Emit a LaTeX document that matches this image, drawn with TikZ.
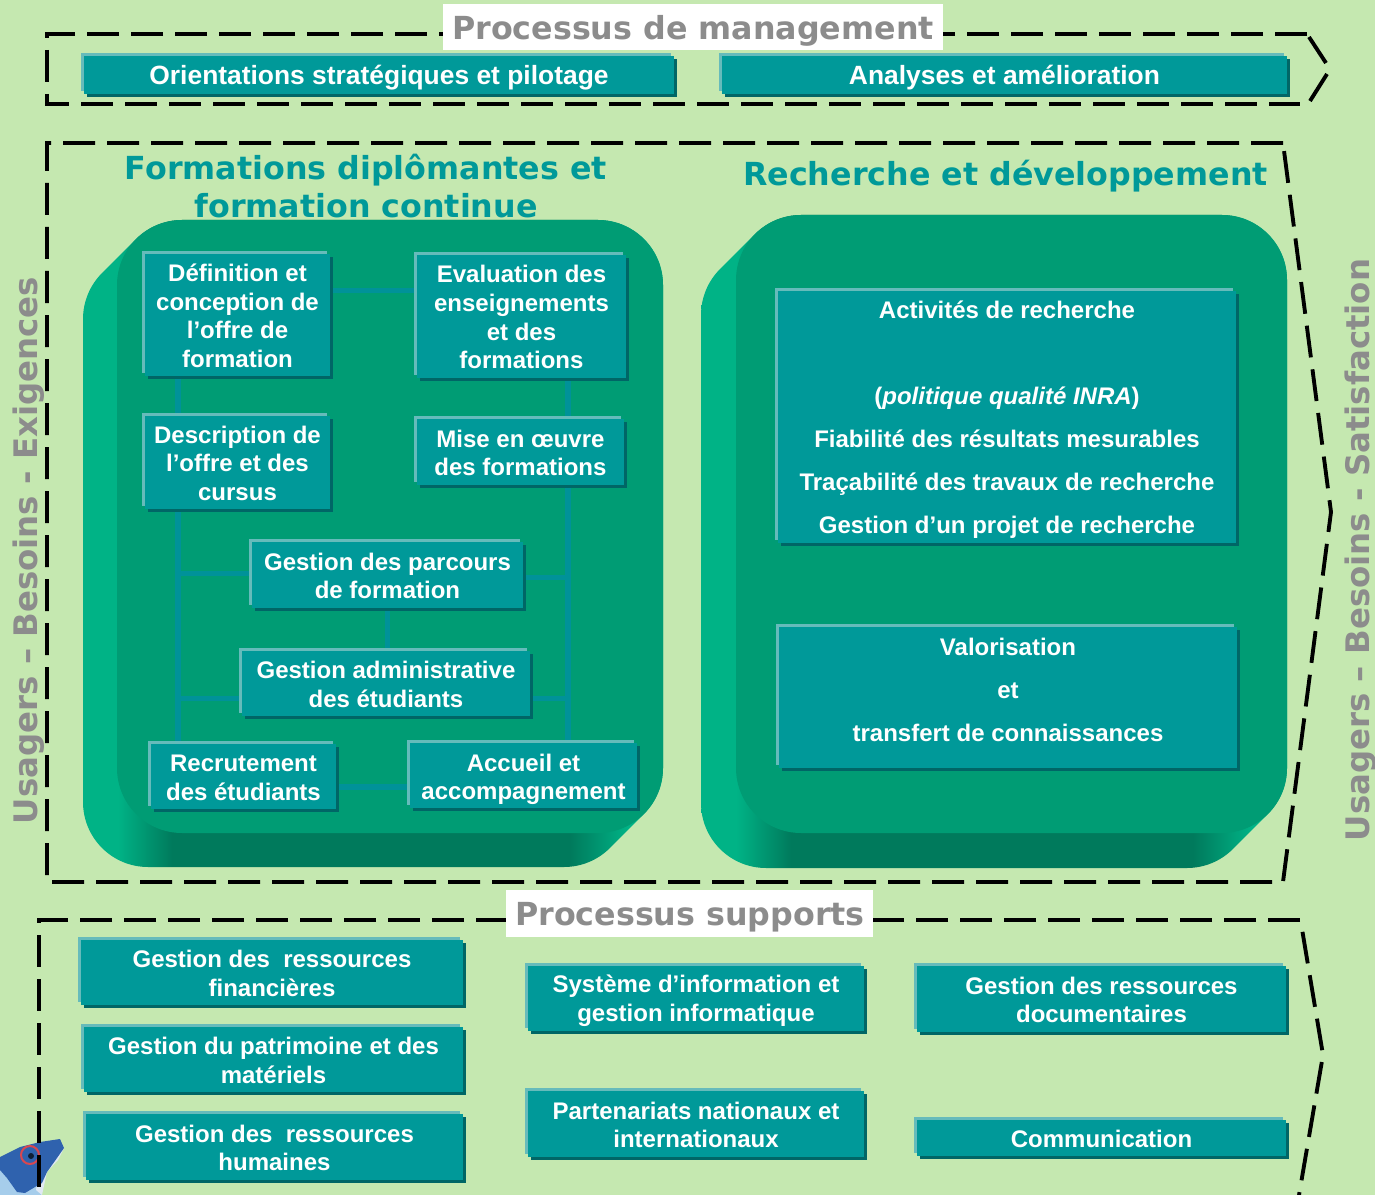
\documentclass[tikz,border=0pt]{standalone}
\usepackage{fontspec}
\setmainfont{Liberation Sans}
\newfontfamily\titlefont{DejaVu Sans}
\usetikzlibrary{calc}
\definecolor{bgc}{HTML}{C5E8B0}
\definecolor{boxc}{HTML}{009999}
\definecolor{boxl}{HTML}{66BBBB}
\definecolor{boxd}{HTML}{006666}
\definecolor{linkc}{HTML}{009299}
\definecolor{frontc}{HTML}{009C74}
\definecolor{brightc}{HTML}{00B386}
\definecolor{darkc}{HTML}{007A5C}
\definecolor{titlec}{HTML}{009999}
\definecolor{greyc}{HTML}{8C8C8C}
\definecolor{fishb}{HTML}{2F62AE}
\definecolor{fishl}{HTML}{A6CDEB}
\definecolor{fishr}{HTML}{D9474F}
\pgfdeclarehorizontalshading{panelsh}{100bp}{color(0bp)=(brightc); color(28bp)=(brightc); color(32.7bp)=(darkc); color(67bp)=(darkc); color(72bp)=(brightc); color(100bp)=(brightc)}
\pgfdeclarelayer{panels}
\pgfdeclarelayer{links}
\pgfsetlayers{panels,links,main}
\tikzset{
  down/.style={yshift=-#1*0.75pt},
  boxtext/.style={text=white,font=\bfseries\fontsize{18}{21.5}\selectfont,align=center,inner sep=0pt,down=0.8},
  widetext/.style={font=\bfseries\fontsize{18}{32.3}\selectfont},
  toptext/.style={font=\bfseries\fontsize{19.8}{21.5}\selectfont},
  linkline/.style={draw=linkc,line width=4pt},
  frame/.style={draw=black,line width=2.9pt,dash pattern=on 24pt off 9pt},
  framesolid/.style={draw=black,line width=2.9pt},
  bigtitle/.style={font=\titlefont\bfseries\fontsize{23.8}{28.5}\selectfont,text=titlec,align=center,inner sep=0pt},
  whitetitle/.style={font=\titlefont\bfseries\fontsize{23.8}{28.5}\selectfont,text=greyc,inner sep=0pt},
  sidetext/.style={font=\titlefont\bfseries\fontsize{24.3}{28.5}\selectfont,text=greyc,rotate=90,inner sep=0pt}
}
% box: main rectangle x0,y0,x1,y1, light edge up-left, dark shadow down-right
\newcommand{\bx}[7][]{%
  \fill[boxl] (#3-3,#4-3) rectangle (#5-3,#6-3);
  \fill[boxd] (#3+3,#4+3) rectangle (#5+3,#6+3);
  \fill[boxc] (#3,#4) rectangle (#5,#6);
  \pgfmathsetmacro\bw{(#5-#3)*0.75}\pgfmathsetmacro\bh{(#6-#4)*0.75}
  \node[boxtext,#1,minimum width=\bw pt,minimum height=\bh pt] (#2) at ({(#3+#5)/2},{(#4+#6)/2}) {#7};
}
% rounded panel with extrusion down-left
\newcommand{\panelshape}[5]{%
  \pgfmathsetmacro\pr{65}\pgfmathsetmacro\pk{\pr*0.7071}
  \shade[shading=panelsh]
    (#1-#5,#2+#5+\pr) arc[start angle=180,end angle=225,radius=\pr]
    -- (#1+\pr-\pk,#2+\pr-\pk) arc[start angle=225,end angle=270,radius=\pr]
    -- (#3-\pr,#2) arc[start angle=270,end angle=360,radius=\pr]
    -- (#3,#4-\pr) arc[start angle=0,end angle=45,radius=\pr]
    -- (#3-#5-\pr+\pk,#4+#5-\pr+\pk) arc[start angle=45,end angle=90,radius=\pr]
    -- (#1-#5+\pr,#4+#5) arc[start angle=90,end angle=180,radius=\pr] -- cycle;
  \fill[frontc,rounded corners=48.75pt] (#1,#2) rectangle (#3,#4);
}
\begin{document}
\begin{tikzpicture}[x=0.75pt,y=-0.75pt]
\useasboundingbox (0,0) rectangle (1375,1195);
\begin{pgfonlayer}{panels}
  \fill[bgc] (0,0) rectangle (1375,1195);
  \panelshape{117}{220}{663}{833}{34}
  \panelshape{736}{215}{1287}{833}{35}
\end{pgfonlayer}

% logo
\fill[fishl] (0,1160) -- (30,1170) -- (42,1195) -- (0,1195) -- cycle;
\fill[white!85!fishb] (64,1148) -- (58,1160) -- (47,1172) -- (42,1195) -- (36,1190) -- (40,1165) -- cycle;
\fill[fishb] (0,1157) -- (20,1147) -- (40,1142) -- (60,1139) -- (64,1148) -- (57,1158) -- (47,1172) -- (42,1183) -- (35,1187) -- (25,1193) -- (17,1192) -- (7,1178) -- (0,1170) -- cycle;
\draw[fishr,line width=1.5pt] (30,1155) circle[radius=9];
\fill[black!70!fishb] (31,1156) circle[radius=3];

% dashed frames
\draw[frame] (1307,34) -- (47,34) -- (47,104) -- (1300,104);
\draw[framesolid] (1309,37) -- (1326,63);
\draw[framesolid] (1327,74) -- (1310,101);
\draw[frame] (1283,143) -- (47,143) -- (47,882) -- (1283,882) -- (1331,512) -- (1283,143);
\draw[frame] (1300,920) -- (39,920) -- (39,1195);
\draw[frame,dash phase=24pt] (1300.5,920) -- (1323,1055) -- (1299,1195);

% titles
\fill[white] (443,4) rectangle (943,50);
\fill[white] (506,890) rectangle (873,937);
\node[whitetitle] (tmgmt) at (693,31) {Processus de management};
\node[whitetitle] (tsupp) at (690,917.5) {Processus supports};
\node[bigtitle] (tform) at (366,186) {Formations diplômantes et\\formation continue};
\node[bigtitle] (trech) at (1005.5,176) {Recherche et développement};
\node[sidetext] (sleft) at (29,550.5) {Usagers – Besoins - Exigences};
\node[sidetext] (sright) at (1361,550) {Usagers – Besoins - Satisfaction};

% boxes
\bx[toptext,down=2.2]{orient}{84}{56}{674}{94}{Orientations stratégiques et pilotage}
\bx[toptext,down=2.2]{analy}{722}{56}{1287}{94}{Analyses et amélioration}
\bx{defi}{145}{254}{330}{376}{Définition et\\conception de\\l’offre de\\formation}
\bx{evalu}{417}{255}{626}{378}{Evaluation des\\enseignements\\et des\\formations}
\bx{desc}{145}{416}{330}{509}{Description de\\l’offre et des\\cursus}
\bx{mise}{417}{419}{624}{485}{Mise en œuvre\\des formations}
\bx{parc}{252}{542}{523}{608}{Gestion des parcours\\de formation}
\bx{admi}{242}{651}{530}{716}{Gestion administrative\\des étudiants}
\bx[down=0.7]{recr}{151}{744}{336}{809}{Recrutement\\des étudiants}
\bx[down=3.2]{accu}{410}{743}{637}{808}{Accueil et\\accompagnement}
\bx[widetext,down=1.7]{acti}{778}{291}{1236}{543}{Activités de recherche\\\mbox{}\\(\textit{politique qualité INRA})\\Fiabilité des résultats mesurables\\Traçabilité des travaux de recherche\\Gestion d’un projet de recherche}
\bx[widetext,down=-8.8]{valo}{779}{627}{1237}{768}{Valorisation\\et\\transfert de connaissances}
\bx{gfin}{81}{940}{463}{1005}{Gestion des\ \ ressources\\financières}
\bx{gpat}{84}{1027}{463}{1092}{Gestion du patrimoine et des\\matériels}
\bx{ghum}{86}{1114}{463}{1180}{Gestion des\ \ ressources\\humaines}
\bx[down=1.2]{syst}{528}{966}{864}{1031}{Système d’information et\\gestion informatique}
\bx{part}{528}{1091}{864}{1157}{Partenariats nationaux et\\internationaux}
\bx{gdoc}{917}{966}{1286}{1032}{Gestion des ressources\\documentaires}
\bx[down=0.2]{comm}{917}{1120}{1286}{1156}{Communication}

% connectors
\coordinate (vleft) at (178,500);
\coordinate (vright) at (568,500);
\coordinate (pl) at ($(parc.west)+(0,-2)$);
\coordinate (pr) at ($(parc.east)+(0,2)$);
\coordinate (al) at ($(admi.west)+(0,14)$);
\coordinate (ar) at ($(admi.east)+(0,14)$);
\coordinate (rr) at ($(recr.east)+(0,9)$);
\coordinate (top) at ($(defi.east)+(0,-25)$);
\begin{pgfonlayer}{links}
  \draw[linkline] (top) -- (evalu.west |- top);
  \draw[linkline] (defi.south -| vleft) -- (recr.north -| vleft);
  \draw[linkline] (evalu.south -| vright) -- (accu.north -| vright);
  \draw[linkline] (pl) -- (vleft |- pl);
  \draw[linkline] (pr) -- (vright |- pr);
  \draw[linkline] (al) -- (vleft |- al);
  \draw[linkline] (ar) -- (vright |- ar);
  \draw[linkline] (parc.south) -- (parc.south |- admi.north);
  \draw[linkline] (rr) -- (accu.west |- rr);
\end{pgfonlayer}
\end{tikzpicture}
\end{document}
